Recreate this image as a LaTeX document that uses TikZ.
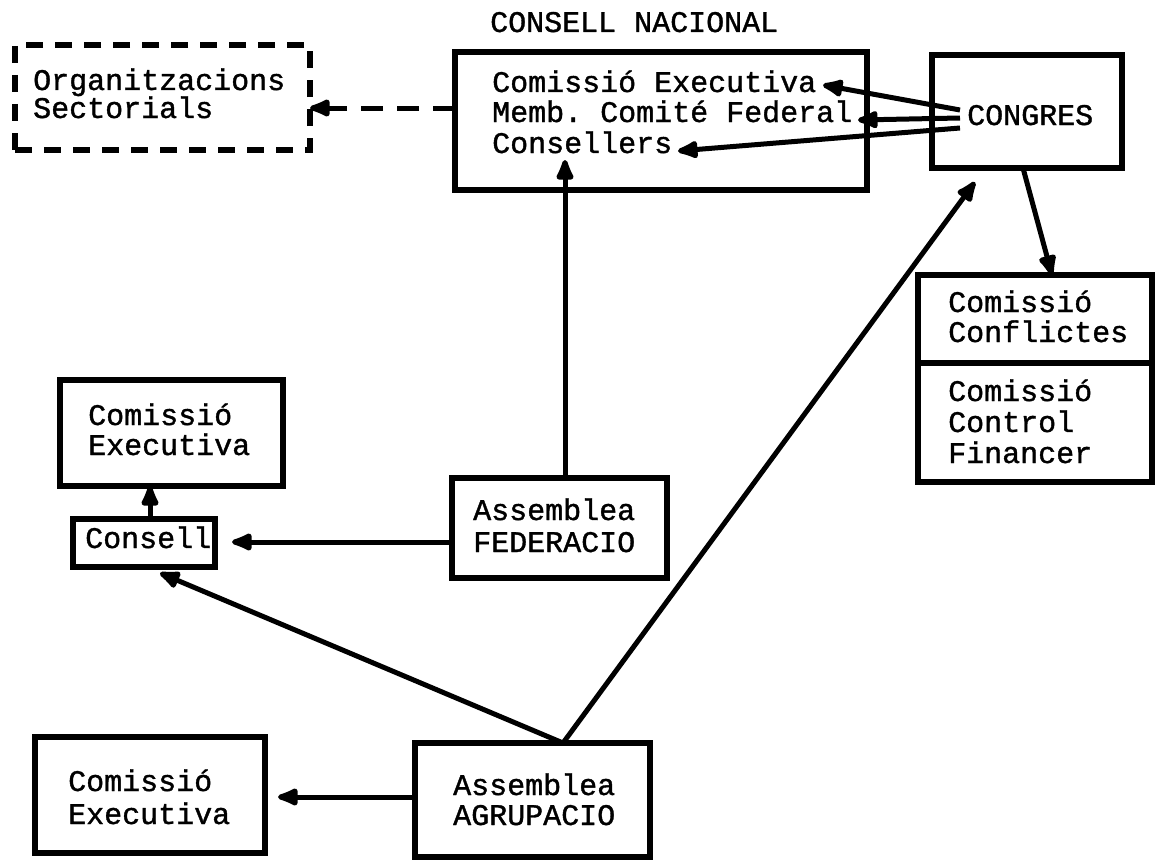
\documentclass[tikz,border=0pt]{standalone}
\usepackage{fontspec}
\setmonofont[FakeBold=1.2]{Liberation Mono}
\usetikzlibrary{arrows.meta}
\begin{document}
\begin{tikzpicture}[x=1pt,y=-1pt,
  box/.style={draw, line width=5.5pt, rectangle, inner sep=0pt, outer sep=0pt},
  dbox/.style={box, dash pattern=on 17pt off 12pt},
  txt/.style={anchor=base west, inner sep=0pt, font=\ttfamily\fontsize{30}{30}\selectfont},
  arr/.style={line width=5pt, -{Latex[length=27pt,width=21pt,round]}},
  darr/.style={arr, dash pattern=on 22pt off 14pt},
]
\fill[white] (0,0) rectangle (1160,867);
\useasboundingbox (0,0) rectangle (1160,867);

% boxes
\node[dbox, minimum width=295pt, minimum height=105pt] (org) at (162.5,97.5) {};
\node[box, minimum width=412pt, minimum height=138pt] (cn) at (661,121) {};
\node[box, minimum width=190pt, minimum height=113pt] (cg) at (1027,111.5) {};
\node[box, minimum width=234pt, minimum height=88pt] (conf1) at (1035,319) {};
\node[box, minimum width=234pt, minimum height=119pt] (conf2) at (1035,422.5) {};
\node[box, minimum width=223pt, minimum height=106pt] (ce1) at (171.5,433) {};
\node[box, minimum width=142pt, minimum height=48pt] (cons) at (144,543) {};
\node[box, minimum width=215pt, minimum height=100pt] (fed) at (559.5,528) {};
\node[box, minimum width=235pt, minimum height=114pt] (agr) at (532.5,800) {};
\node[box, minimum width=230pt, minimum height=116pt] (ce2) at (150,795) {};

% texts
\node[txt] (tNat) at (490,32) {CONSELL NACIONAL};
\node[txt] (tOrgA) at (33,90) {Organitzacions};
\node[txt] (tOrgB) at (33,118) {Sectorials};
\node[txt] (tCnA) at (492,92) {Comissió Executiva};
\node[txt] (tCnB) at (492,122) {Memb. Comité Federal};
\node[txt] (tCnC) at (492,153) {Consellers};
\node[txt] (tCg) at (967,125) {CONGRES};
\node[txt] (tCfA) at (948,312) {Comissió};
\node[txt] (tCfB) at (948,342) {Conflictes};
\node[txt] (tCcA) at (948,401) {Comissió};
\node[txt] (tCcB) at (948,432) {Control};
\node[txt] (tCcC) at (948,463) {Financer};
\node[txt] (tEaA) at (88,425) {Comissió};
\node[txt] (tEaB) at (88,455) {Executiva};
\node[txt] (tCons) at (85,548) {Consell};
\node[txt] (tFedA) at (473,520) {Assemblea};
\node[txt] (tFedB) at (473,552) {FEDERACIO};
\node[txt] (tAgrA) at (453,795) {Assemblea};
\node[txt] (tAgrB) at (453,825) {AGRUPACIO};
\node[txt] (tEbA) at (68,791) {Comissió};
\node[txt] (tEbB) at (68,824) {Executiva};

% connector end points
\coordinate (g1) at (960,110);
\coordinate (g2) at (960,118);
\coordinate (g3) at (960,128);
\coordinate (k1) at (823,85);
\coordinate (k2) at (858,120);
\coordinate (k3) at (678,151);
\coordinate (cgin) at (975,182);
\coordinate (consin) at (160,573);
\coordinate (cnin) at (565,160);

% connectors
\draw[darr] (cn.west |- 0,108) -- (org.east |- 0,108);
\draw[arr] (g1) -- (k1);
\draw[arr] (g2) -- (k2);
\draw[arr] (g3) -- (k3);
\draw[arr] (cg.south -| 1023,0) -- (conf1.north -| 1052,0);
\draw[arr] (agr.north -| 563,0) -- (cgin);
\draw[arr] (agr.north -| 563,0) -- (consin);
\draw[arr] (fed.west |- 0,542) -- ([xshift=17pt]cons.east |- 0,542);
\draw[arr] (fed.north -| 565,0) -- (cnin);
\draw[arr] (cons.north -| 150,0) -- (ce1.south -| 150,0);
\draw[arr] (agr.west |- 0,797) -- ([xshift=13pt]ce2.east |- 0,797);
\end{tikzpicture}
\end{document}
